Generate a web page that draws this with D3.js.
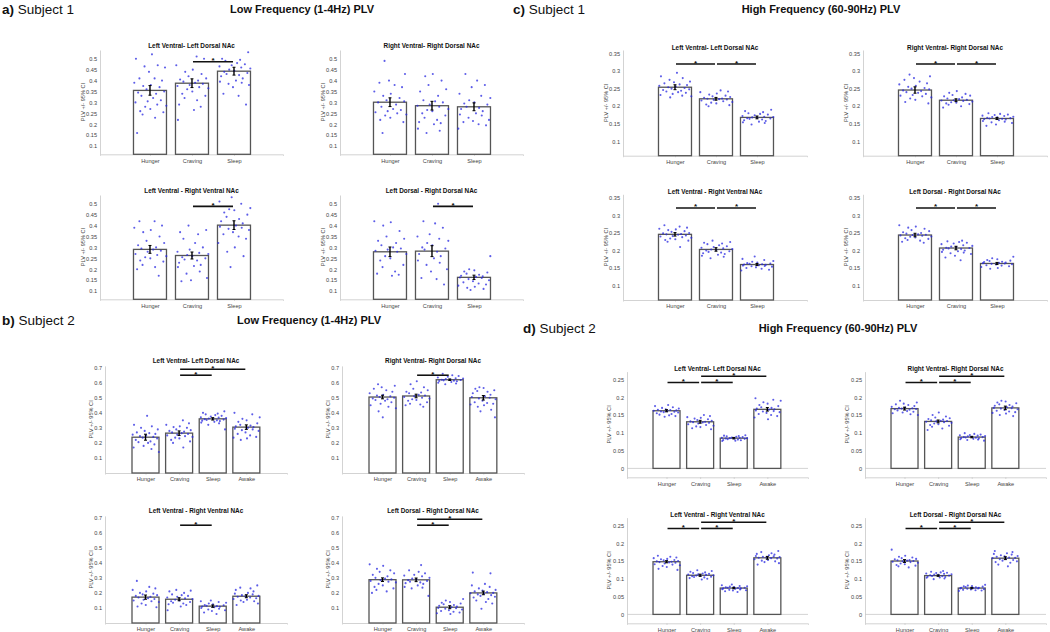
<!DOCTYPE html>
<html>
<head>
<meta charset="utf-8">
<script src="https://cdn.jsdelivr.net/npm/d3@7"></script>
<style>
  body { margin: 0; background: #fff; }
  svg { display: block; font-family: "Liberation Sans", Arial, sans-serif; }
  .tick text { fill: #444; }
</style>
</head>
<body>
<svg id="chart"></svg>
<script>
//Categories and panel titles
let condS1 = ['Hunger', 'Craving', 'Sleep']
let condS2 = ['Hunger', 'Craving', 'Sleep', 'Awake']
let pairTitles = ['Left Ventral- Left Dorsal NAc', 'Right Ventral- Right Dorsal NAc',
                  'Left Ventral - Right Ventral NAc', 'Left Dorsal - Right Dorsal NAc']

//Y tick labels of every block
let ticksLowS1  = [0.1, 0.15, 0.2, 0.25, 0.3, 0.35, 0.4, 0.45, 0.5]
let ticksHighS1 = [0.1, 0.15, 0.2, 0.25, 0.3, 0.35]
let ticksLowS2  = [0.1, 0.2, 0.3, 0.4, 0.5, 0.6, 0.7]
let ticksHighS2 = [0, 0.05, 0.1, 0.15, 0.2, 0.25]

//Bar heights (mean PLV) and 95% CI half widths, one row per NAc pair
let lowS1Means  = [[0.355, 0.388, 0.443], [0.301, 0.285, 0.280], [0.291, 0.263, 0.402], [0.280, 0.283, 0.163]]
let lowS1CI     = [[0.022, 0.020, 0.018], [0.020, 0.020, 0.018], [0.018, 0.016, 0.020], [0.022, 0.025, 0.010]]
let highS1Means = [[0.254, 0.221, 0.168], [0.246, 0.217, 0.165], [0.246, 0.203, 0.160], [0.244, 0.207, 0.163]]
let highS1CI    = [[0.007, 0.004, 0.004], [0.009, 0.004, 0.003], [0.005, 0.005, 0.003], [0.005, 0.005, 0.003]]
let lowS2Means  = [[0.238, 0.265, 0.360, 0.305], [0.505, 0.512, 0.620, 0.500], [0.172, 0.158, 0.112, 0.178], [0.288, 0.287, 0.105, 0.200]]
let lowS2CI     = [[0.020, 0.015, 0.008, 0.015], [0.012, 0.012, 0.005, 0.015], [0.014, 0.010, 0.008, 0.010], [0.012, 0.012, 0.010, 0.012]]
let highS2Means = [[0.162, 0.131, 0.085, 0.166], [0.168, 0.132, 0.088, 0.170], [0.148, 0.110, 0.074, 0.159], [0.150, 0.109, 0.074, 0.158]]
let highS2CI    = [[0.003, 0.004, 0.002, 0.005], [0.004, 0.004, 0.002, 0.005], [0.003, 0.003, 0.002, 0.004], [0.004, 0.002, 0.002, 0.004]]

//Significance pairs [from, to, height]
let lowS1Sig  = [[[1, 2, 0.486]], [], [[1, 2, 0.488]], [[1, 2, 0.488]]]
let highS1Sig = [[[0, 1, 0.320], [1, 2, 0.320]], [[0, 1, 0.320], [1, 2, 0.320]],
                 [[0, 1, 0.321], [1, 2, 0.321]], [[0, 1, 0.321], [1, 2, 0.321]]]
let lowS2Sig  = [[[1, 2, 0.650], [1, 3, 0.690]], [[1, 2, 0.650]], [[1, 2, 0.650]], [[1, 2, 0.650], [1, 3, 0.690]]]
let highS2Sig = [[[0, 1, 0.2415], [1, 2, 0.2415], [1, 3, 0.259]], [[0, 1, 0.2415], [1, 2, 0.2415], [1, 3, 0.259]],
                 [[0, 1, 0.2415], [1, 2, 0.2415], [1, 3, 0.259]], [[0, 1, 0.2415], [1, 2, 0.2415], [1, 3, 0.259]]]

//Single trial PLV values
let lowS1Pts = [
  [[0.52, 0.50, 0.47, 0.465, 0.46, 0.44, 0.41, 0.41, 0.40, 0.39, 0.38, 0.375, 0.37, 0.36, 0.35, 0.345, 0.34, 0.33, 0.32, 0.31, 0.305, 0.30, 0.29, 0.285, 0.28, 0.27, 0.26, 0.255, 0.245, 0.23, 0.16],
   [0.51, 0.50, 0.47, 0.45, 0.44, 0.43, 0.42, 0.41, 0.405, 0.40, 0.395, 0.39, 0.385, 0.38, 0.375, 0.37, 0.365, 0.36, 0.35, 0.34, 0.33, 0.32, 0.31, 0.29, 0.28, 0.265, 0.22],
   [0.53, 0.50, 0.495, 0.49, 0.48, 0.475, 0.47, 0.465, 0.46, 0.455, 0.45, 0.445, 0.44, 0.435, 0.43, 0.425, 0.42, 0.41, 0.40, 0.395, 0.39, 0.385, 0.38, 0.37, 0.34, 0.33, 0.29]],
  [[0.49, 0.43, 0.40, 0.39, 0.38, 0.37, 0.35, 0.34, 0.33, 0.32, 0.31, 0.305, 0.30, 0.29, 0.28, 0.27, 0.265, 0.26, 0.255, 0.25, 0.245, 0.24, 0.23, 0.22, 0.21, 0.16],
   [0.43, 0.42, 0.40, 0.38, 0.36, 0.35, 0.33, 0.31, 0.305, 0.30, 0.29, 0.285, 0.28, 0.27, 0.265, 0.26, 0.25, 0.24, 0.23, 0.22, 0.21, 0.205, 0.20, 0.18, 0.17, 0.16],
   [0.43, 0.40, 0.38, 0.37, 0.34, 0.33, 0.32, 0.31, 0.30, 0.295, 0.29, 0.28, 0.275, 0.27, 0.26, 0.25, 0.245, 0.24, 0.23, 0.22, 0.215, 0.21, 0.20, 0.195, 0.18]],
  [[0.42, 0.42, 0.40, 0.39, 0.38, 0.37, 0.35, 0.33, 0.32, 0.31, 0.30, 0.295, 0.29, 0.285, 0.28, 0.27, 0.265, 0.26, 0.255, 0.25, 0.24, 0.235, 0.22, 0.21, 0.20, 0.17],
   [0.40, 0.38, 0.37, 0.36, 0.34, 0.32, 0.30, 0.29, 0.28, 0.275, 0.27, 0.265, 0.26, 0.255, 0.25, 0.245, 0.24, 0.23, 0.22, 0.215, 0.21, 0.19, 0.18, 0.16, 0.15, 0.145],
   [0.53, 0.51, 0.50, 0.48, 0.475, 0.47, 0.46, 0.45, 0.44, 0.43, 0.42, 0.41, 0.40, 0.395, 0.39, 0.385, 0.38, 0.37, 0.36, 0.35, 0.34, 0.32, 0.30, 0.28, 0.26, 0.21]],
  [[0.42, 0.415, 0.40, 0.375, 0.35, 0.34, 0.33, 0.32, 0.31, 0.30, 0.295, 0.29, 0.285, 0.28, 0.27, 0.26, 0.25, 0.24, 0.22, 0.21, 0.19, 0.18, 0.175, 0.17],
   [0.50, 0.42, 0.41, 0.39, 0.36, 0.35, 0.34, 0.33, 0.32, 0.31, 0.30, 0.295, 0.29, 0.28, 0.27, 0.26, 0.25, 0.24, 0.23, 0.22, 0.20, 0.19, 0.16, 0.155, 0.13],
   [0.26, 0.20, 0.195, 0.19, 0.185, 0.18, 0.175, 0.17, 0.168, 0.165, 0.162, 0.16, 0.155, 0.15, 0.145, 0.14, 0.135, 0.13, 0.125, 0.12, 0.115, 0.11, 0.105]]
]
let highS1Pts = [
  [[0.295, 0.285, 0.28, 0.275, 0.27, 0.268, 0.265, 0.262, 0.26, 0.258, 0.256, 0.254, 0.252, 0.25, 0.248, 0.246, 0.244, 0.242, 0.24, 0.238, 0.235, 0.232, 0.23, 0.228, 0.225],
   [0.245, 0.242, 0.24, 0.236, 0.233, 0.23, 0.228, 0.226, 0.224, 0.222, 0.221, 0.22, 0.219, 0.218, 0.216, 0.214, 0.212, 0.21, 0.208, 0.205, 0.203, 0.20],
   [0.19, 0.186, 0.183, 0.18, 0.178, 0.176, 0.174, 0.172, 0.17, 0.169, 0.168, 0.167, 0.166, 0.165, 0.164, 0.162, 0.16, 0.158, 0.156, 0.154, 0.152, 0.148]],
  [[0.29, 0.285, 0.28, 0.275, 0.27, 0.265, 0.262, 0.258, 0.255, 0.252, 0.25, 0.248, 0.245, 0.243, 0.24, 0.238, 0.235, 0.232, 0.23, 0.228, 0.225, 0.222, 0.218, 0.212, 0.208],
   [0.243, 0.238, 0.235, 0.232, 0.23, 0.228, 0.225, 0.222, 0.22, 0.218, 0.217, 0.216, 0.215, 0.213, 0.211, 0.21, 0.208, 0.206, 0.204, 0.20, 0.196],
   [0.18, 0.178, 0.176, 0.175, 0.173, 0.172, 0.17, 0.169, 0.168, 0.167, 0.166, 0.165, 0.164, 0.163, 0.162, 0.16, 0.158, 0.156, 0.154, 0.152, 0.148, 0.144]],
  [[0.272, 0.268, 0.265, 0.262, 0.26, 0.258, 0.255, 0.253, 0.25, 0.249, 0.247, 0.246, 0.245, 0.243, 0.241, 0.24, 0.238, 0.236, 0.234, 0.232, 0.23, 0.228, 0.225, 0.21],
   [0.228, 0.224, 0.222, 0.22, 0.218, 0.215, 0.212, 0.21, 0.208, 0.206, 0.204, 0.203, 0.202, 0.20, 0.198, 0.196, 0.194, 0.192, 0.19, 0.188, 0.185, 0.182, 0.178],
   [0.183, 0.176, 0.173, 0.17, 0.168, 0.166, 0.164, 0.163, 0.162, 0.161, 0.16, 0.159, 0.158, 0.157, 0.156, 0.155, 0.154, 0.152, 0.15, 0.148, 0.145, 0.143]],
  [[0.272, 0.268, 0.265, 0.262, 0.258, 0.255, 0.252, 0.25, 0.248, 0.246, 0.245, 0.244, 0.243, 0.242, 0.24, 0.239, 0.237, 0.235, 0.233, 0.23, 0.228, 0.225, 0.222],
   [0.228, 0.226, 0.224, 0.222, 0.22, 0.218, 0.215, 0.213, 0.211, 0.21, 0.208, 0.207, 0.206, 0.204, 0.202, 0.20, 0.198, 0.196, 0.194, 0.192, 0.19, 0.185, 0.18, 0.172],
   [0.182, 0.178, 0.175, 0.173, 0.171, 0.17, 0.168, 0.167, 0.166, 0.165, 0.164, 0.163, 0.162, 0.161, 0.16, 0.158, 0.157, 0.155, 0.153, 0.15, 0.148]]
]
let lowS2Pts = [
  [[0.38, 0.32, 0.31, 0.30, 0.29, 0.28, 0.27, 0.265, 0.26, 0.255, 0.25, 0.245, 0.24, 0.235, 0.23, 0.22, 0.21, 0.205, 0.20, 0.19, 0.18, 0.17, 0.16, 0.14],
   [0.35, 0.33, 0.32, 0.31, 0.305, 0.30, 0.29, 0.285, 0.28, 0.275, 0.27, 0.265, 0.26, 0.255, 0.25, 0.245, 0.24, 0.235, 0.23, 0.22, 0.21, 0.20, 0.17],
   [0.41, 0.40, 0.395, 0.39, 0.385, 0.38, 0.375, 0.37, 0.368, 0.365, 0.362, 0.36, 0.358, 0.355, 0.352, 0.35, 0.348, 0.345, 0.34, 0.335, 0.33, 0.32, 0.29],
   [0.40, 0.39, 0.37, 0.36, 0.35, 0.34, 0.33, 0.32, 0.315, 0.31, 0.305, 0.30, 0.295, 0.29, 0.285, 0.28, 0.27, 0.26, 0.25, 0.24, 0.235, 0.23, 0.22]],
  [[0.59, 0.58, 0.57, 0.56, 0.55, 0.54, 0.53, 0.52, 0.515, 0.51, 0.505, 0.50, 0.495, 0.49, 0.485, 0.48, 0.47, 0.46, 0.45, 0.44, 0.43, 0.41, 0.37],
   [0.61, 0.59, 0.57, 0.56, 0.55, 0.54, 0.535, 0.53, 0.52, 0.515, 0.51, 0.505, 0.50, 0.495, 0.49, 0.485, 0.48, 0.47, 0.46, 0.455, 0.45, 0.44],
   [0.66, 0.65, 0.645, 0.64, 0.635, 0.63, 0.628, 0.625, 0.622, 0.62, 0.618, 0.616, 0.614, 0.612, 0.61, 0.605, 0.60, 0.595, 0.59],
   [0.57, 0.565, 0.56, 0.55, 0.545, 0.54, 0.53, 0.52, 0.51, 0.505, 0.50, 0.495, 0.49, 0.48, 0.47, 0.465, 0.46, 0.455, 0.45, 0.44, 0.42, 0.41, 0.37]],
  [[0.28, 0.24, 0.23, 0.22, 0.21, 0.20, 0.195, 0.19, 0.185, 0.18, 0.175, 0.17, 0.165, 0.16, 0.155, 0.15, 0.145, 0.14, 0.13, 0.12, 0.11, 0.105],
   [0.22, 0.215, 0.21, 0.20, 0.19, 0.185, 0.18, 0.175, 0.17, 0.165, 0.16, 0.155, 0.15, 0.145, 0.14, 0.135, 0.13, 0.125, 0.12, 0.11, 0.085],
   [0.15, 0.145, 0.14, 0.135, 0.13, 0.125, 0.12, 0.118, 0.115, 0.112, 0.11, 0.108, 0.105, 0.10, 0.095, 0.09, 0.085, 0.08, 0.07, 0.06],
   [0.25, 0.235, 0.23, 0.22, 0.21, 0.20, 0.195, 0.19, 0.185, 0.18, 0.178, 0.175, 0.17, 0.165, 0.16, 0.155, 0.15, 0.145, 0.14, 0.13, 0.12]],
  [[0.39, 0.38, 0.36, 0.35, 0.34, 0.33, 0.32, 0.31, 0.30, 0.295, 0.29, 0.285, 0.28, 0.275, 0.27, 0.26, 0.25, 0.24, 0.23, 0.22, 0.21, 0.20],
   [0.385, 0.35, 0.34, 0.33, 0.32, 0.315, 0.31, 0.30, 0.295, 0.29, 0.285, 0.28, 0.275, 0.27, 0.265, 0.26, 0.25, 0.24, 0.235, 0.23, 0.18],
   [0.16, 0.15, 0.14, 0.135, 0.13, 0.125, 0.12, 0.115, 0.11, 0.105, 0.10, 0.098, 0.095, 0.09, 0.085, 0.08, 0.075, 0.07, 0.065, 0.06],
   [0.335, 0.33, 0.26, 0.25, 0.24, 0.23, 0.22, 0.215, 0.21, 0.205, 0.20, 0.198, 0.195, 0.19, 0.185, 0.18, 0.175, 0.17, 0.16, 0.15, 0.14, 0.13, 0.095]]
]
let highS2Pts = [
  [[0.178, 0.175, 0.172, 0.17, 0.168, 0.166, 0.165, 0.164, 0.163, 0.162, 0.161, 0.16, 0.159, 0.158, 0.157, 0.155, 0.153, 0.151, 0.149, 0.147, 0.145],
   [0.15, 0.147, 0.144, 0.142, 0.14, 0.138, 0.136, 0.134, 0.132, 0.131, 0.13, 0.129, 0.128, 0.126, 0.124, 0.122, 0.12, 0.118, 0.116, 0.113, 0.11],
   [0.093, 0.092, 0.091, 0.09, 0.089, 0.088, 0.087, 0.086, 0.086, 0.085, 0.085, 0.084, 0.084, 0.083, 0.082, 0.081, 0.08, 0.079, 0.078, 0.077],
   [0.197, 0.193, 0.19, 0.186, 0.182, 0.178, 0.175, 0.172, 0.17, 0.168, 0.166, 0.165, 0.163, 0.161, 0.16, 0.158, 0.156, 0.153, 0.15, 0.147, 0.143, 0.138]],
  [[0.19, 0.185, 0.182, 0.18, 0.178, 0.175, 0.173, 0.171, 0.17, 0.169, 0.168, 0.167, 0.166, 0.165, 0.163, 0.161, 0.159, 0.157, 0.155, 0.152, 0.15],
   [0.157, 0.15, 0.146, 0.143, 0.141, 0.139, 0.137, 0.135, 0.134, 0.133, 0.132, 0.131, 0.13, 0.128, 0.126, 0.124, 0.122, 0.12, 0.117, 0.112, 0.108],
   [0.099, 0.097, 0.095, 0.094, 0.093, 0.092, 0.091, 0.09, 0.089, 0.088, 0.088, 0.087, 0.086, 0.085, 0.084, 0.083, 0.082, 0.081, 0.08, 0.078],
   [0.19, 0.188, 0.185, 0.183, 0.18, 0.178, 0.176, 0.174, 0.172, 0.17, 0.169, 0.168, 0.166, 0.164, 0.162, 0.16, 0.158, 0.156, 0.154, 0.15, 0.147]],
  [[0.165, 0.162, 0.16, 0.158, 0.156, 0.155, 0.153, 0.152, 0.15, 0.149, 0.148, 0.147, 0.146, 0.145, 0.143, 0.141, 0.14, 0.138, 0.136, 0.133, 0.128, 0.125],
   [0.124, 0.122, 0.12, 0.118, 0.116, 0.115, 0.114, 0.113, 0.112, 0.111, 0.11, 0.109, 0.108, 0.107, 0.106, 0.105, 0.104, 0.102, 0.10, 0.098],
   [0.084, 0.082, 0.08, 0.079, 0.078, 0.077, 0.076, 0.075, 0.075, 0.074, 0.073, 0.073, 0.072, 0.071, 0.07, 0.069, 0.068, 0.067, 0.065, 0.063],
   [0.178, 0.175, 0.172, 0.17, 0.168, 0.166, 0.164, 0.163, 0.162, 0.161, 0.16, 0.159, 0.158, 0.157, 0.155, 0.153, 0.151, 0.149, 0.147, 0.144, 0.14]],
  [[0.182, 0.165, 0.162, 0.16, 0.158, 0.156, 0.155, 0.153, 0.152, 0.151, 0.15, 0.149, 0.148, 0.147, 0.145, 0.143, 0.141, 0.139, 0.137, 0.135, 0.132],
   [0.122, 0.12, 0.118, 0.117, 0.116, 0.115, 0.114, 0.113, 0.112, 0.111, 0.11, 0.109, 0.108, 0.107, 0.106, 0.105, 0.104, 0.103, 0.101, 0.099],
   [0.083, 0.081, 0.08, 0.079, 0.078, 0.077, 0.076, 0.075, 0.075, 0.074, 0.073, 0.073, 0.072, 0.071, 0.07, 0.069, 0.068, 0.067, 0.066],
   [0.178, 0.175, 0.172, 0.17, 0.168, 0.166, 0.164, 0.163, 0.162, 0.16, 0.159, 0.158, 0.157, 0.155, 0.153, 0.151, 0.149, 0.147, 0.145, 0.14, 0.135]]
]

//Fixed horizontal jitter pattern for the dots (fraction of half bar width)
let jitter = [0.12, -0.85, 0.47, -0.33, 0.91, -0.06, -0.64, 0.28, 0.73, -0.95, 0.05, -0.41, 0.58, -0.21, 0.86, -0.72,
              0.37, -0.52, 0.19, 0.66, -0.14, -0.88, 0.44, 0.99, -0.29, 0.02, -0.59, 0.81, -0.45, 0.31, -0.78, 0.53]

let width = 1050
let height = 632

let svg = d3.select('#chart')
    .attr('width', width)
    .attr('height', height)

svg.append('rect').attr('width', width).attr('height', height).attr('fill', '#fff')

//Layout of the four blocks (a, c, b, d)
let blocks = [
    {cats: condS1, means: lowS1Means, ci: lowS1CI, pts: lowS1Pts, sig: lowS1Sig, ticks: ticksLowS1,
     yDomain: [0.0625, 0.54], lefts: [100, 340], plotW: 183, xDomain: [-1.19, 3.167], barW: 33,
     tops: [50, 195], plotH: 104.3, titleY: [46, 191], labelOff: 15},
    {cats: condS1, means: highS1Means, ci: highS1CI, pts: highS1Pts, sig: highS1Sig, ticks: ticksHighS1,
     yDomain: [0.059, 0.36], lefts: [623, 863], plotW: 184, xDomain: [-1.268, 3.22], barW: 33,
     tops: [50, 194.3], plotH: 105.7, titleY: [48, 192], labelOff: 15},
    {cats: condS2, means: lowS2Means, ci: lowS2CI, pts: lowS2Pts, sig: lowS2Sig, ticks: ticksLowS2,
     yDomain: [0, 0.712], lefts: [105, 342], plotW: 182, xDomain: [-1.205, 4.21], barW: 27,
     tops: [365.9, 515.9], plotH: 107.1, titleY: [361, 511], labelOff: 12.5},
    {cats: condS2, means: highS2Means, ci: highS2CI, pts: highS2Pts, sig: highS2Sig, ticks: ticksHighS2,
     yDomain: [-0.025, 0.272], lefts: [627, 865], plotW: 181, xDomain: [-1.176, 4.21], barW: 27,
     tops: [371.6, 517.6], plotH: 105.7, titleY: [369, 515], labelOff: 16}
]

let drawPanel = (b, p) => {
    let left = b.lefts[p % 2]
    let top = b.tops[Math.floor(p / 2)]
    let bottom = top + b.plotH

    let xScale = d3.scaleLinear().domain(b.xDomain).range([left, left + b.plotW])
    let yScale = d3.scaleLinear().domain(b.yDomain).range([bottom, top])

    let g = svg.append('g')

    //title
    g.append('text')
        .attr('x', left + b.plotW / 2)
        .attr('y', b.titleY[Math.floor(p / 2)] + 2.3)
        .attr('text-anchor', 'middle')
        .attr('font-size', 6.4)
        .attr('font-weight', 'bold')
        .attr('fill', '#111')
        .text(pairTitles[p])

    //axes
    let yAxis = d3.axisLeft(yScale)
        .tickValues(b.ticks)
        .tickSize(0)
        .tickPadding(3)
        .tickFormat(d => String(+d.toFixed(2)))
    let yg = g.append('g').attr('transform', 'translate(' + left + ',0)').call(yAxis)
    yg.select('.domain').attr('stroke', '#c8c8c8').attr('stroke-width', 0.8)
    yg.selectAll('text').attr('font-size', 5.6).attr('font-family', '"Liberation Sans", Arial, sans-serif')

    let xAxis = d3.axisBottom(xScale)
        .tickValues(b.cats.map((c, i) => i))
        .tickSize(1.5)
        .tickPadding(3)
        .tickFormat(i => b.cats[i])
    let xg = g.append('g').attr('transform', 'translate(0,' + bottom + ')').call(xAxis)
    xg.select('.domain').attr('stroke', '#c8c8c8').attr('stroke-width', 0.8)
    xg.selectAll('.tick line').attr('stroke', '#ccc')
    xg.selectAll('text').attr('font-size', 5.6).attr('font-family', '"Liberation Sans", Arial, sans-serif')

    //y label
    g.append('text')
        .attr('transform', 'translate(' + (left - b.labelOff) + ',' + (top + b.plotH / 2) + ') rotate(-90)')
        .attr('text-anchor', 'middle')
        .attr('font-size', 5.6)
        .attr('fill', '#444')
        .text('PLV +/- 95% CI')

    //zero baseline
    let base = Math.max(0, b.yDomain[0])
    if (b.yDomain[0] < 0) {
        g.append('line')
            .attr('x1', left).attr('x2', left + b.plotW)
            .attr('y1', yScale(0)).attr('y2', yScale(0))
            .attr('stroke', '#c8c8c8').attr('stroke-width', 0.8)
    }

    //bars
    g.selectAll('rect.bar')
        .data(b.means[p])
        .enter()
        .append('rect')
        .attr('class', 'bar')
        .attr('x', (d, i) => xScale(i) - b.barW / 2)
        .attr('width', b.barW)
        .attr('y', d => yScale(d))
        .attr('height', d => yScale(base) - yScale(d))
        .attr('fill', '#fff')
        .attr('stroke', '#555')
        .attr('stroke-width', 1.3)

    //dots
    b.pts[p].forEach((vals, gi) => {
        g.selectAll(null)
            .data(vals)
            .enter()
            .append('circle')
            .attr('cx', (d, k) => xScale(gi) + jitter[(k + gi * 7 + p * 3) % jitter.length] * b.barW * 0.5)
            .attr('cy', d => yScale(d))
            .attr('r', 1.05)
            .attr('fill', '#2727e0')
            .attr('fill-opacity', 0.75)
    })

    //error bars
    b.means[p].forEach((m, i) => {
        let e = b.ci[p][i]
        let cx = xScale(i)
        g.append('line')
            .attr('x1', cx).attr('x2', cx)
            .attr('y1', yScale(m - e)).attr('y2', yScale(m + e))
            .attr('stroke', '#000').attr('stroke-width', 1.4)
        ;[m - e, m + e].forEach(v => {
            g.append('line')
                .attr('x1', cx - 1.5).attr('x2', cx + 1.5)
                .attr('y1', yScale(v)).attr('y2', yScale(v))
                .attr('stroke', '#000').attr('stroke-width', 1)
        })
    })

    //significance bars
    b.sig[p].forEach(s => {
        let x1 = xScale(s[0]) + 1
        let x2 = xScale(s[1]) - 1
        let yy = yScale(s[2])
        g.append('line')
            .attr('x1', x1).attr('x2', x2)
            .attr('y1', yy).attr('y2', yy)
            .attr('stroke', '#111').attr('stroke-width', 1.6)
        g.append('text')
            .attr('x', (x1 + x2) / 2)
            .attr('y', yy + 1.5)
            .attr('text-anchor', 'middle')
            .attr('font-size', 8)
            .attr('font-weight', 'bold')
            .attr('fill', '#111')
            .text('*')
    })
}

blocks.forEach(b => {
    for (let p = 0; p < 4; p++) drawPanel(b, p)
})

//Block headings
let headings = [
    {x: 2, y: 14, letter: 'a)', name: ' Subject 1', title: 'Low Frequency (1-4Hz) PLV', tx: 302},
    {x: 513, y: 14, letter: 'c)', name: ' Subject 1', title: 'High Frequency (60-90Hz) PLV', tx: 821},
    {x: 2, y: 325, letter: 'b)', name: ' Subject 2', title: 'Low Frequency (1-4Hz) PLV', tx: 309},
    {x: 523, y: 333, letter: 'd)', name: ' Subject 2', title: 'High Frequency (60-90Hz) PLV', tx: 838}
]

headings.forEach(h => {
    let t = svg.append('text')
        .attr('x', h.x)
        .attr('y', h.y)
        .attr('font-size', 13.5)
        .attr('fill', '#111')
    t.append('tspan').attr('font-weight', 'bold').text(h.letter)
    t.append('tspan').text(h.name)

    svg.append('text')
        .attr('x', h.tx)
        .attr('y', h.y - 1)
        .attr('text-anchor', 'middle')
        .attr('font-size', 11)
        .attr('font-weight', 'bold')
        .attr('fill', '#111')
        .text(h.title)
})
</script>
</body>
</html>
